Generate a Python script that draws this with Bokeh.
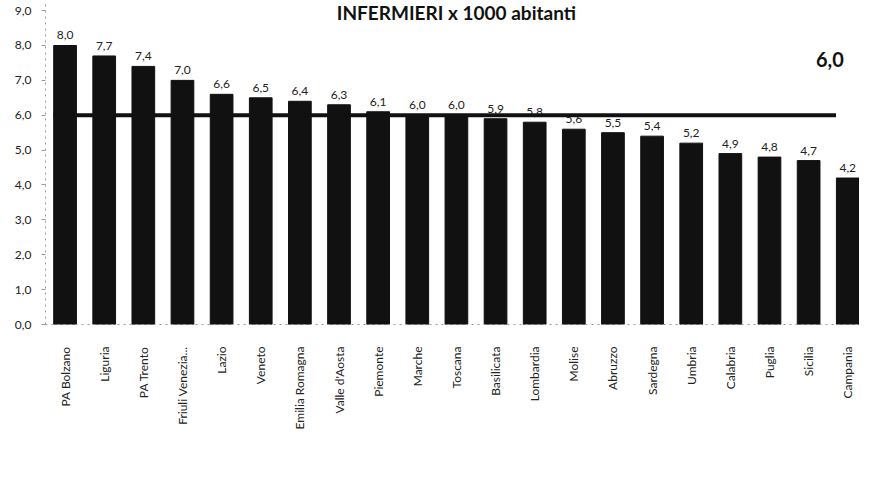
import math
from bokeh.plotting import figure
from bokeh.models import ColumnDataSource, Range1d, FixedTicker, Label
from bokeh.core.properties import value
from bokeh.embed import file_html
from bokeh.resources import INLINE

regions = ["PA Bolzano", "Liguria", "PA Trento", "Friuli Venezia...", "Lazio", "Veneto",
           "Emilia Romagna", "Valle d'Aosta", "Piemonte", "Marche", "Toscana", "Basilicata",
           "Lombardia", "Molise", "Abruzzo", "Sardegna", "Umbria", "Calabria", "Puglia",
           "Sicilia", "Campania"]
nurses = [8.0, 7.7, 7.4, 7.0, 6.6, 6.5, 6.4, 6.3, 6.1, 6.0, 6.0, 5.9, 5.8, 5.6, 5.5,
          5.4, 5.2, 4.9, 4.8, 4.7, 4.2]
average = 6.0
y_ticks = [0, 1, 2, 3, 4, 5, 6, 7, 8, 9]
title_text = "INFERMIERI x 1000 abitanti"

def fmt(v):
    return f"{v:.1f}".replace(".", ",")

xs = list(range(len(regions)))
src = ColumnDataSource(dict(x=xs, top=nurses, lab=[fmt(v) for v in nurses]))

FONT = "Lato"

p = figure(width=859, height=485, output_backend="svg", toolbar_location=None,
           x_range=Range1d(-0.5, len(regions) - 0.7), y_range=Range1d(0, 9.29),
           min_border_left=45, min_border_right=0, min_border_top=0, min_border_bottom=161)
p.outline_line_color = None
p.grid.grid_line_color = None
p.background_fill_color = "white"

p.vbar(x="x", top="top", width=0.58, bottom=0, source=src, fill_color="#111111", line_color="#111111")
p.text(x="x", y="top", text="lab", source=src, text_align="center", text_baseline="bottom",
       y_offset=-6, text_font=value(FONT), text_font_size="12px", text_color="#222222")

# average line
p.line(x=[xs[0] - 0.3, xs[-1] - 0.3], y=[average, average], line_color="#111111", line_width=4)
p.add_layout(Label(x=xs[-1] - 0.1, y=average + 1.6, text=fmt(average), text_align="right",
                   text_baseline="middle", text_font=FONT, text_font_size="20px",
                   text_font_style="bold", text_color="#111111"))
p.add_layout(Label(x=(xs[0] + xs[-1]) / 2, y=9.29, text=title_text, text_align="center",
                   text_baseline="top", text_font=FONT, text_font_size="19px",
                   text_font_style="bold", text_color="#111111"))

# axes
p.xaxis.ticker = FixedTicker(ticks=xs)
p.xaxis.major_label_overrides = {i: r for i, r in enumerate(regions)}
p.xaxis.major_label_orientation = math.pi / 2
p.xaxis.major_label_text_font = FONT
p.xaxis.major_label_text_font_size = "12px"
p.xaxis.major_label_text_color = "#222222"
p.xaxis.major_tick_line_color = None
p.xaxis.minor_tick_line_color = None
p.xaxis.axis_line_color = "#999999"
p.xaxis.axis_line_dash = "dotted"
p.xaxis.major_label_standoff = 16

p.yaxis.ticker = FixedTicker(ticks=y_ticks)
p.yaxis.major_label_overrides = {t: fmt(t) for t in y_ticks}
p.yaxis.major_label_text_font = FONT
p.yaxis.major_label_text_font_size = "12px"
p.yaxis.major_label_text_color = "#222222"
p.yaxis.axis_line_color = "#999999"
p.yaxis.axis_line_dash = "dotted"
p.yaxis.major_tick_line_color = "#999999"
p.yaxis.major_tick_out = 4
p.yaxis.major_tick_in = 0
p.yaxis.minor_tick_line_color = None
p.yaxis.major_label_standoff = 10

open("out.html", "w").write(file_html(p, INLINE))
